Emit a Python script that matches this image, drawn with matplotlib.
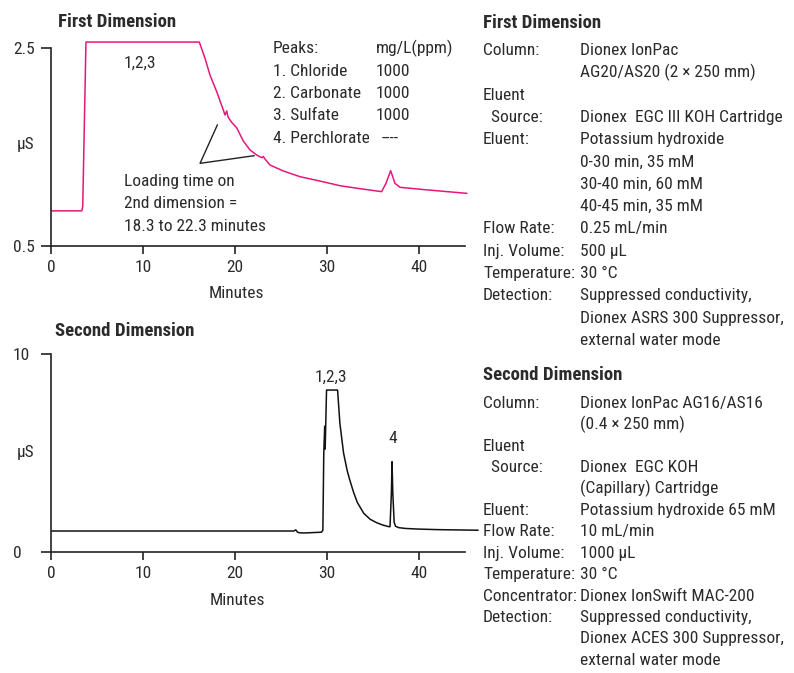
import matplotlib
matplotlib.use("Agg")
import matplotlib.pyplot as plt
from matplotlib import font_manager

# Fuente condensada (la figura original usa una Helvetica condensada)
disponibles = {f.name for f in font_manager.fontManager.ttflist}
candidatas = ["Liberation Sans Narrow", "Nimbus Sans Narrow", "Roboto Condensed",
              "PT Sans Narrow", "Archivo Narrow", "Liberation Sans"]
FUENTE = next((c for c in candidatas if c in disponibles), "DejaVu Sans")
plt.rcParams["font.family"] = [FUENTE, "DejaVu Sans"]

TXT = "#2b2b2b"
ROSA = "#e6177c"
FS = 12.5      # texto normal
FS_T = 13.5    # títulos en negrita

# ---------------------------------------------------------------------------
# Datos
# ---------------------------------------------------------------------------
# Primera dimensión (traza rosa), minutos / µS
t1 = [0.1, 3.35, 3.45, 3.8, 16.12, 16.74, 17.28, 18.01, 18.73, 18.91, 19.10,
      19.24, 19.64, 20.18, 20.90, 21.63, 22.36, 22.90, 23.08, 23.26, 23.80,
      25.25, 27.07, 29.57, 31.41, 33.5, 35.94, 36.41, 36.92, 37.39, 37.93,
      40.5, 45.18]
s1 = [0.855, 0.855, 0.90, 2.56, 2.56, 2.396, 2.227, 2.059, 1.874, 1.823, 1.864,
      1.803, 1.749, 1.695, 1.561, 1.470, 1.419, 1.392, 1.404, 1.379, 1.318,
      1.258, 1.200, 1.149, 1.109, 1.08, 1.049, 1.133, 1.261, 1.133, 1.093,
      1.07, 1.032]

# líneas guía de "Loading time"
guia_t = [18.08, 16.2, 22.07]
guia_s = [1.722, 1.335, 1.412]

# Segunda dimensión (traza negra)
t2 = [0.1, 26.4, 26.6, 26.8, 27.0, 27.5, 29.4, 29.55, 29.65, 29.75, 29.8,
      29.95, 31.15, 31.4, 31.8, 32.2, 32.5, 32.9, 33.3, 34.0, 34.7, 35.4,
      36.0, 36.7, 36.85, 37.0, 37.07, 37.15, 37.3, 37.45, 37.8, 38.5, 39.8,
      42.0, 46.4]
s2 = [1.06, 1.06, 1.12, 1.0, 0.97, 0.96, 1.0, 1.1, 5.0, 6.35, 5.2,
      8.18, 8.18, 6.5, 5.0, 4.1, 3.6, 3.0, 2.5, 1.95, 1.65, 1.48,
      1.37, 1.28, 1.28, 3.0, 4.56, 3.0, 1.5, 1.3, 1.23, 1.19, 1.16,
      1.13, 1.10]

x_ticks = [0, 10, 20, 30, 40]

picos = ["Peaks:", "1. Chloride", "2. Carbonate", "3. Sulfate", "4. Perchlorate"]
conc = ["mg/L(ppm)", "1000", "1000", "1000", "----"]

cond1 = [
    ("Column:", "Dionex IonPac"),
    ("", "AG20/AS20 (2 \u00d7 250 mm)"),
    ("Eluent", ""),
    ("  Source:", "Dionex  EGC III KOH Cartridge"),
    ("Eluent:", "Potassium hydroxide"),
    ("", "0-30 min, 35 mM"),
    ("", "30-40 min, 60 mM"),
    ("", "40-45 min, 35 mM"),
    ("Flow Rate:", "0.25 mL/min"),
    ("Inj. Volume:", "500 \u00b5L"),
    ("Temperature:", "30 \u00b0C"),
    ("Detection:", "Suppressed conductivity,"),
    ("", "Dionex ASRS 300 Suppressor,"),
    ("", "external water mode"),
]
cond2 = [
    ("Column:", "Dionex IonPac AG16/AS16"),
    ("", "(0.4 \u00d7 250 mm)"),
    ("Eluent", ""),
    ("  Source:", "Dionex  EGC KOH"),
    ("", "(Capillary) Cartridge"),
    ("Eluent:", "Potassium hydroxide 65 mM"),
    ("Flow Rate:", "10 mL/min"),
    ("Inj. Volume:", "1000 \u00b5L"),
    ("Temperature:", "30 \u00b0C"),
    ("Concentrator:", "Dionex IonSwift MAC-200"),
    ("Detection:", "Suppressed conductivity,"),
    ("", "Dionex ACES 300 Suppressor,"),
    ("", "external water mode"),
]

W, H = 794, 673


def px(x, y):
    return x / W, 1 - y / H


def preparar_eje(ax, yticks, ylim):
    ax.set_xlim(0, 45)
    ax.set_ylim(*ylim)
    ax.set_xticks(x_ticks)
    ax.set_yticks(yticks)
    for lado in ("top", "right"):
        ax.spines[lado].set_visible(False)
    for lado in ("left", "bottom"):
        ax.spines[lado].set_color("#222222")
        ax.spines[lado].set_linewidth(1.2)
    ax.tick_params(axis="x", direction="out", length=6, width=1.2,
                   colors="#222222", labelcolor=TXT, labelsize=FS, pad=4)
    ax.tick_params(axis="y", direction="out", length=7.5, width=1.2,
                   colors="#222222", labelcolor=TXT, labelsize=FS, pad=20)
    ax.set_xlabel("Minutes", fontsize=FS, color=TXT)


fig = plt.figure(figsize=(W / 100, H / 100), dpi=100)

# ---------------------------------------------------------------------------
# Primera dimensión
# ---------------------------------------------------------------------------
ax1 = fig.add_axes([51 / W, 427 / H, 414 / W, 198 / H])
preparar_eje(ax1, [0.5, 2.5], (0.5, 2.5))
ax1.set_yticklabels(["0.5", "2.5"])
ax1.xaxis.set_label_coords(0.447, -0.204)
ax1.plot(t1, s1, color=ROSA, lw=1.1, clip_on=False)
ax1.plot(guia_t, guia_s, color="#222222", lw=1.0)

ax1.text(7.93, 2.295, "1,2,3", fontsize=FS, color=TXT)
for i, (p, c) in enumerate(zip(picos, conc)):
    yb = 0.5 + (246 - (53 + 22.5 * i)) / 99
    ax1.text(24.1, yb, p, fontsize=FS, color=TXT)
    ax1.text(35.9 if c == "----" else 35.3, yb, c, fontsize=FS, color=TXT)
for i, linea in enumerate(["Loading time on", "2nd dimension =",
                           "18.3 to 22.3 minutes"]):
    yb = 0.5 + (246 - (186 + 22.3 * i)) / 99
    ax1.text(7.93, yb, linea, fontsize=FS, color=TXT)

fig.text(*px(58, 26.7), "First Dimension", fontsize=FS_T, fontweight="bold",
         color=TXT)
fig.text(*px(17, 149), "\u00b5S", fontsize=FS, color=TXT)

# ---------------------------------------------------------------------------
# Segunda dimensión
# ---------------------------------------------------------------------------
ax2 = fig.add_axes([51 / W, 121 / H, 414 / W, 198 / H])
preparar_eje(ax2, [0, 10], (0, 10))
ax2.xaxis.set_label_coords(0.449, -0.205)
ax2.plot(t2, s2, color="#111111", lw=1.1, clip_on=False)
ax2.text(30.43, 8.6, "1,2,3", fontsize=FS, color=TXT, ha="center")
ax2.text(37.1, 5.52, "4", fontsize=FS, color=TXT, ha="center")

fig.text(*px(55, 336), "Second Dimension", fontsize=FS_T, fontweight="bold",
         color=TXT)
fig.text(*px(17, 457), "\u00b5S", fontsize=FS, color=TXT)

# y tick labels alineados a la izquierda, como en el original
for ax in (ax1, ax2):
    for lab in ax.get_yticklabels():
        lab.set_horizontalalignment("left")

# ---------------------------------------------------------------------------
# Condiciones (columna derecha)
# ---------------------------------------------------------------------------
fig.text(*px(483, 28.3), "First Dimension", fontsize=FS_T, fontweight="bold",
         color=TXT)
for i, (lab, val) in enumerate(cond1):
    y = 55 + 22.3 * i
    fig.text(*px(483, y), lab, fontsize=FS, color=TXT)
    fig.text(*px(580, y), val, fontsize=FS, color=TXT)

fig.text(*px(483, 380), "Second Dimension", fontsize=FS_T, fontweight="bold",
         color=TXT)
for i, (lab, val) in enumerate(cond2):
    y = 408 + 21.4 * i
    fig.text(*px(483, y), lab, fontsize=FS, color=TXT)
    fig.text(*px(580, y), val, fontsize=FS, color=TXT)

fig.savefig("out.png", dpi=100)
